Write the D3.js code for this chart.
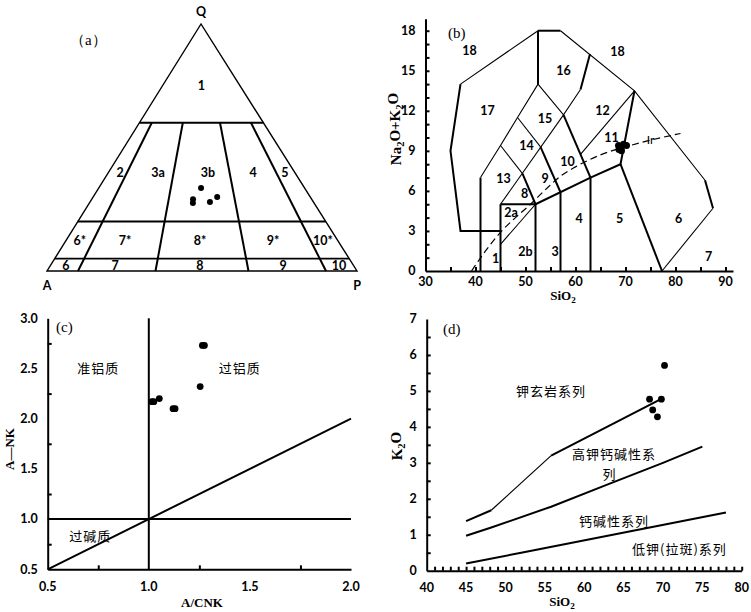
<!DOCTYPE html>
<html>
<head>
<meta charset="utf-8">
<script src="https://cdn.jsdelivr.net/npm/d3@7"></script>
<style>
  body { margin: 0; background: #fff; }
  svg { display: block; font-family: Lato, "Liberation Sans", sans-serif; }
  .tk { font-size: 12.5px; font-weight: bold; }
  .fld { font-size: 12.5px; font-weight: bold; }
  .ttl { font-family: "Liberation Serif", serif; font-weight: bold; }
  .tag { font-family: "Liberation Serif", serif; font-size: 15px; }
  .cn { font-family: "Noto Sans CJK SC", sans-serif; font-size: 13px; letter-spacing: 1px; }
</style>
</head>
<body>
<svg id="fig" width="751" height="612"></svg>
<script>
// ---- (a) QAP data ----
var qapDivs = [0.10, 0.35, 0.65, 0.90];      // P/(A+P)
var qapLevels = [0.60, 0.20, 0.05];          // Q
var qapLabels = [
  {t: "1", q: 0.75, r: 0.50},
  {t: "2", q: 0.397, r: 0.064}, {t: "3a", q: 0.397, r: 0.267}, {t: "3b", q: 0.397, r: 0.534},
  {t: "4", q: 0.397, r: 0.775}, {t: "5", q: 0.397, r: 0.946},
  {t: "6*", q: 0.125, r: 0.05}, {t: "7*", q: 0.125, r: 0.217}, {t: "8*", q: 0.125, r: 0.493},
  {t: "9*", q: 0.125, r: 0.762}, {t: "10*", q: 0.125, r: 0.946},
  {t: "6", q: 0.02, r: 0.052}, {t: "7", q: 0.02, r: 0.214}, {t: "8", q: 0.02, r: 0.493},
  {t: "9", q: 0.02, r: 0.767}, {t: "10", q: 0.02, r: 0.951}
];
var qapPoints = [
  {q: 33.6, a: 33.4, p: 33.0},
  {q: 29.0, a: 38.3, p: 32.7},
  {q: 27.5, a: 39.1, p: 33.4},
  {q: 27.9, a: 33.4, p: 38.7},
  {q: 30.0, a: 30.0, p: 40.0}
];

// ---- (b) TAS data ----
var tasThin = [
  [[52.5, 18], [37, 14]],
  [[57, 18], [71.8, 13.5], [85.9, 6.8]],
  [[87.5, 4.7], [77.3, 0]],
  [[52.5, 14], [48.4, 11.5], [45, 9.4], [41, 7]],
  [[52.5, 14], [57.6, 11.7], [61, 13.6]],
  [[45, 5], [57.6, 11.7]],
  [[48.4, 11.5], [53, 9.3]],
  [[45, 9.4], [49.4, 7.3]],
  [[71.8, 13.5], [61, 8.74]],
  [[45, 2], [52, 5]]
];
var tasThick = [
  [[37, 14], [35, 9], [37, 3], [45, 3]],
  [[52.5, 18], [57, 18]],
  [[85.9, 6.8], [87.5, 4.7]],
  [[52.5, 18], [52.5, 14]],
  [[41, 7], [41, 0]],
  [[61, 13.6], [62.9, 16.25]],
  [[53, 9.3], [57, 5.9]],
  [[49.4, 7.3], [52, 5]],
  [[57.6, 11.7], [63, 7]],
  [[71.8, 13.5], [69, 8], [63, 7], [52, 5]],
  [[69, 8], [77.3, 0]],
  [[45, 5], [45, 0]], [[45, 5], [52, 5]], [[52, 5], [52, 0]],
  [[57, 5.9], [57, 0]], [[63, 7], [63, 0]]
];
var tasDash = [[39.2, 0], [42, 1.5], [45, 2.9], [48, 4.0], [51, 5.0], [54, 6.1], [57, 7.1],
  [60, 7.8], [65, 8.7], [70, 9.3], [75, 9.8], [81, 10.3]];
var tasLabels = [
  ["18", 38.8, 16.5], ["18", 68.4, 16.4], ["16", 57.6, 15.0], ["17", 42.4, 12.0],
  ["15", 53.9, 11.4], ["12", 65.4, 12.0], ["14", 50.2, 9.36], ["11", 67.2, 10.0],
  ["10", 58.4, 8.2], ["13", 45.6, 6.94], ["9", 53.9, 6.94], ["8", 49.8, 5.8],
  ["2a", 47.1, 4.4], ["4", 60.7, 3.9], ["5", 68.8, 3.9], ["6", 80.6, 3.9],
  ["2b", 50.0, 1.45], ["3", 55.9, 1.45], ["1", 44.0, 0.95], ["7", 86.6, 1.1]
];
var tasPoints = [[68.6, 9.4], [68.7, 9.1], [69.2, 9.0], [69.6, 9.5], [70.2, 9.4]];

// ---- (c) A/CNK - A/NK data ----
var acnkPoints = [[1.015, 2.17], [1.025, 2.17], [1.052, 2.20], [1.12, 2.10], [1.13, 2.10],
  [1.254, 2.32], [1.265, 2.73], [1.275, 2.73]];
var acnkLabels = [["准铝质", 0.75, 2.5], ["过铝质", 1.45, 2.5], ["过碱质", 0.71, 0.83]];

// ---- (d) SiO2 - K2O data ----
var k2oLines = [
  {w: 2, pts: [[45, 1.38], [48.2, 1.68]]},
  {w: 1.2, pts: [[48.2, 1.68], [55.8, 3.2]]},
  {w: 2, pts: [[55.8, 3.2], [69.8, 4.78]]},
  {w: 2, pts: [[45, 0.97], [48.2, 1.2], [55.8, 1.78], [63, 2.4], [70, 3.0], [75, 3.45]]},
  {w: 2, pts: [[45, 0.2], [52, 0.5], [78, 1.62]]}
];
var k2oPoints = [[68.3, 4.77], [69.8, 4.77], [68.7, 4.47], [69.3, 4.28], [70.2, 5.71]];
var k2oLabels = [["钾玄岩系列", 55.8, 4.98], ["高钾钙碱性系", 63.8, 3.22], ["列", 63.2, 2.68],
  ["钙碱性系列", 63.8, 1.38], ["低钾(拉斑)系列", 72.1, 0.6]];

var svg = d3.select("#fig");
var line = d3.line();

function axes(g, x, y, o) {
  // domain lines + inward minor ticks + labels
  g.append("g").attr("transform", "translate(0," + y.range()[0] + ")")
    .call(d3.axisBottom(x).tickValues(o.xMinor).tickSize(-4).tickSizeOuter(0).tickFormat(""))
    .call(s => s.selectAll("path,line").attr("stroke", "#000").attr("stroke-width", 2));
  g.append("g").attr("transform", "translate(" + x.range()[0] + ",0)")
    .call(d3.axisLeft(y).tickValues(o.yMinor).tickSize(-4).tickSizeOuter(0).tickFormat(""))
    .call(s => s.selectAll("path,line").attr("stroke", "#000").attr("stroke-width", 2));
  g.selectAll(".xl").data(o.xLab).enter().append("text").attr("class", "tk")
    .attr("x", d => x(d)).attr("y", y.range()[0] + o.xOff).attr("text-anchor", "middle")
    .text(d => o.fmt(d));
  g.selectAll(".yl").data(o.yLab).enter().append("text").attr("class", "tk")
    .attr("x", x.range()[0] - 10).attr("y", d => y(d)).attr("dy", "0.35em")
    .attr("text-anchor", "end").text(d => o.fmt(d));
}

function sub(t, parts) {
  parts.forEach(function(p) {
    var s = t.append("tspan").text(p[0]);
    if (p[1]) s.attr("font-size", "70%").attr("dy", "0.3em");
    else s.attr("dy", p[2] ? "-0.3em" : null);
  });
}

// ===== (a) =====
(function() {
  var g = svg.append("g");
  var Q = [201, 24], A = [47, 271], P = [357, 271];
  function tern(q, r) {
    var xl = A[0] + (Q[0] - A[0]) * q, xr = P[0] + (Q[0] - P[0]) * q;
    return [xl + (xr - xl) * r, A[1] + (Q[1] - A[1]) * q];
  }
  g.append("path").attr("d", line([tern(1, 0), tern(0, 0), tern(0, 1)]) + "Z")
    .attr("fill", "none").attr("stroke", "#000").attr("stroke-width", 1.4);
  qapLevels.forEach(function(l) {
    g.append("path").attr("d", line([tern(l, 0), tern(l, 1)]))
      .attr("stroke", "#000").attr("stroke-width", l > 0.1 ? 2 : 1.6);
  });
  qapDivs.forEach(function(r) {
    g.append("path").attr("d", line([tern(0.6, r), tern(0, r)]))
      .attr("stroke", "#000").attr("stroke-width", 2);
  });
  g.selectAll(".lab").data(qapLabels).enter().append("text").attr("class", "fld")
    .attr("x", d => tern(d.q, d.r)[0]).attr("y", d => tern(d.q, d.r)[1])
    .attr("dy", "0.35em").attr("text-anchor", "middle").text(d => d.t);
  g.selectAll("circle").data(qapPoints).enter().append("circle")
    .attr("cx", d => tern(d.q / 100, d.p / (d.a + d.p))[0])
    .attr("cy", d => tern(d.q / 100, d.p / (d.a + d.p))[1])
    .attr("r", 3).attr("fill", "#000");
  g.append("text").attr("class", "fld").attr("x", Q[0]).attr("y", 16).attr("text-anchor", "middle").text("Q");
  g.append("text").attr("class", "fld").attr("x", A[0]).attr("y", 290).attr("text-anchor", "middle").text("A");
  g.append("text").attr("class", "fld").attr("x", P[0]).attr("y", 290).attr("text-anchor", "middle").text("P");
  g.append("text").attr("class", "tag").attr("x", 70).attr("y", 45).text("（a）");
})();

// ===== (b) =====
(function() {
  var g = svg.append("g");
  var x = d3.scaleLinear([30, 91.5], [425.5, 733]);
  var y = d3.scaleLinear([0, 18.9], [271, 18.7]);
  axes(g, x, y, {
    xMinor: d3.range(35, 91, 5), yMinor: d3.range(1, 19, 1),
    xLab: d3.range(30, 91, 10), yLab: d3.range(0, 19, 3), xOff: 15, fmt: d => d
  });
  var p = d => line(d.map(v => [x(v[0]), y(v[1])]));
  g.selectAll(".thin").data(tasThin).enter().append("path").attr("d", p)
    .attr("fill", "none").attr("stroke", "#000").attr("stroke-width", 1.1);
  g.selectAll(".thick").data(tasThick).enter().append("path").attr("d", p)
    .attr("fill", "none").attr("stroke", "#000").attr("stroke-width", 2);
  g.append("path").attr("d", d3.line().curve(d3.curveMonotoneX)(tasDash.map(v => [x(v[0]), y(v[1])])))
    .attr("fill", "none").attr("stroke", "#000").attr("stroke-width", 1.2).attr("stroke-dasharray", "7,4");
  g.selectAll(".lab").data(tasLabels).enter().append("text").attr("class", "fld")
    .attr("x", d => x(d[1])).attr("y", d => y(d[2])).attr("dy", "0.35em")
    .attr("text-anchor", "middle").text(d => d[0]);
  g.append("text").attr("x", x(75)).attr("y", y(9.8)).attr("dy", "0.35em").attr("text-anchor", "middle")
    .attr("font-size", 12).text("Ir");
  g.selectAll("circle").data(tasPoints).enter().append("circle")
    .attr("cx", d => x(d[0])).attr("cy", d => y(d[1])).attr("r", 3.5).attr("fill", "#000");
  g.append("text").attr("class", "tag").attr("x", 448).attr("y", 38).text("(b)");
  var t = g.append("text").attr("class", "ttl").attr("font-size", 15)
    .attr("transform", "translate(401,129) rotate(-90)").attr("text-anchor", "middle");
  sub(t, [["Na"], ["2", 1], ["O+K", 0, 1], ["2", 1], ["O", 0, 1]]);
  var s = g.append("text").attr("class", "ttl").attr("font-size", 13).attr("x", 563).attr("y", 300)
    .attr("text-anchor", "middle");
  sub(s, [["SiO"], ["2", 1]]);
})();

// ===== (c) =====
(function() {
  var g = svg.append("g");
  var x = d3.scaleLinear([0.5, 2.0], [47.7, 351]);
  var y = d3.scaleLinear([0.5, 3.0], [569.3, 318.3]);
  axes(g, x, y, {
    xMinor: [0.75, 1.25, 1.75], yMinor: [0.75, 1.25, 1.75, 2.25, 2.75],
    xLab: [0.5, 1.0, 1.5, 2.0], yLab: [0.5, 1.0, 1.5, 2.0, 2.5, 3.0], xOff: 22, fmt: d3.format(".1f")
  });
  var bounds = [[[1, 0.5], [1, 3]], [[0.5, 1], [2, 1]], [[0.5, 0.5], [2, 2]]];
  g.selectAll(".bd").data(bounds).enter().append("path")
    .attr("d", d => line(d.map(v => [x(v[0]), y(v[1])])))
    .attr("stroke", "#000").attr("stroke-width", 2);
  g.selectAll(".cnl").data(acnkLabels).enter().append("text").attr("class", "cn")
    .attr("x", d => x(d[1])).attr("y", d => y(d[2])).attr("dy", "0.35em")
    .attr("text-anchor", "middle").text(d => d[0]);
  g.selectAll("circle").data(acnkPoints).enter().append("circle")
    .attr("cx", d => x(d[0])).attr("cy", d => y(d[1])).attr("r", 3.4).attr("fill", "#000");
  g.append("text").attr("class", "tag").attr("x", 56).attr("y", 332).text("(c)");
  g.append("text").attr("class", "ttl").attr("font-size", 13).attr("x", 202).attr("y", 607)
    .attr("text-anchor", "middle").text("A/CNK");
  g.append("text").attr("class", "ttl").attr("font-size", 13)
    .attr("transform", "translate(14,449) rotate(-90)").attr("text-anchor", "middle").text("A—NK");
})();

// ===== (d) =====
(function() {
  var g = svg.append("g");
  var x = d3.scaleLinear([40, 80], [426.7, 741.7]);
  var y = d3.scaleLinear([0, 7], [570.7, 319]);
  axes(g, x, y, {
    xMinor: d3.range(41, 81, 1), yMinor: d3.range(0.5, 7, 0.5),
    xLab: d3.range(40, 81, 5), yLab: d3.range(0, 8, 1), xOff: 21.5, fmt: d => d
  });
  g.selectAll(".kl").data(k2oLines).enter().append("path")
    .attr("d", d => line(d.pts.map(v => [x(v[0]), y(v[1])])))
    .attr("fill", "none").attr("stroke", "#000").attr("stroke-width", d => d.w);
  g.selectAll(".cnl").data(k2oLabels).enter().append("text").attr("class", "cn")
    .attr("x", d => x(d[1])).attr("y", d => y(d[2])).attr("dy", "0.35em")
    .attr("text-anchor", "middle").text(d => d[0]);
  g.selectAll("circle").data(k2oPoints).enter().append("circle")
    .attr("cx", d => x(d[0])).attr("cy", d => y(d[1])).attr("r", 3.4).attr("fill", "#000");
  g.append("text").attr("class", "tag").attr("x", 443).attr("y", 334).text("(d)");
  var t = g.append("text").attr("class", "ttl").attr("font-size", 15)
    .attr("transform", "translate(402,446) rotate(-90)").attr("text-anchor", "middle");
  sub(t, [["K"], ["2", 1], ["O", 0, 1]]);
  var s = g.append("text").attr("class", "ttl").attr("font-size", 13).attr("x", 562).attr("y", 606)
    .attr("text-anchor", "middle");
  sub(s, [["SiO"], ["2", 1]]);
})();
</script>
</body>
</html>
